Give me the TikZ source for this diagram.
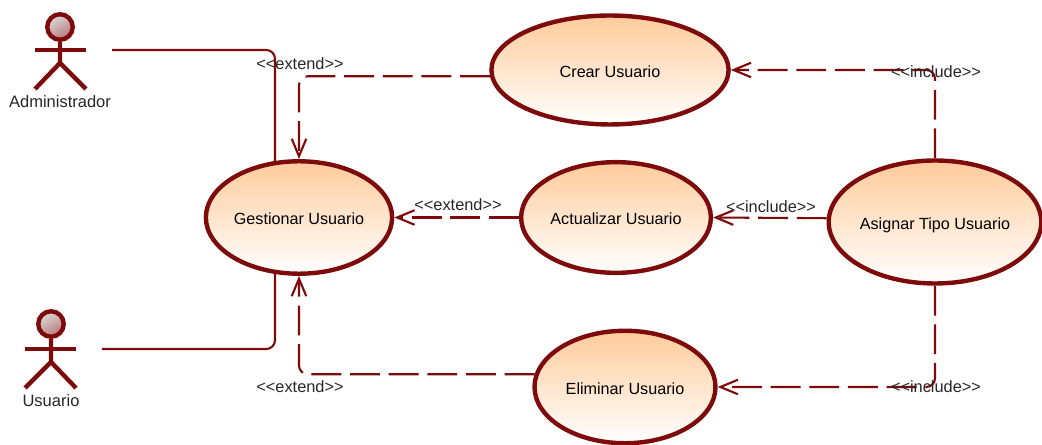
\documentclass[tikz,border=0pt]{standalone}
\usepackage{fontspec}
\setmainfont{Liberation Sans}
\usepackage{xcolor}
\usetikzlibrary{arrows.meta}
\usetikzlibrary{shapes.geometric}
\definecolor{umlred}{HTML}{7E0B0B}
\definecolor{umlfill}{HTML}{FFCB9B}
\tikzset{>={Straight Barb[width=2.9mm,length=3.5mm]}}
\tikzset{
  usecase/.style={ellipse,draw=umlred,line width=2.5pt,top color=umlfill,bottom color=white,inner sep=0pt,text height=8pt,text depth=0pt,font=\fontsize{9.2}{10}\selectfont},
  actorhead/.style={circle,draw=umlred,line width=2.5pt,minimum size=14.5pt,inner sep=0pt,top color=black!15!white,bottom color=umlred!55!white,shading angle=30},
  actorbody/.style={draw=umlred,line width=2.5pt},
  assoc/.style={draw=umlred,line width=1.2pt,rounded corners=5pt},
  depend/.style={draw=umlred,line width=1.2pt,rounded corners=5pt,->,dash pattern=on 17pt off 5pt},
  tag/.style={font=\fontsize{9.3}{10}\selectfont,text=black!85},
  actorname/.style={font=\fontsize{9.4}{10}\selectfont,text=black!85}
}

\begin{document}
\begin{tikzpicture}[x=0.02cm,y=-0.02cm]

  \useasboundingbox (0,0) rectangle (1042,445);

  % casos de uso
  \node[usecase,minimum width=106pt,minimum height=64pt] (gestionar) at (299,217.5) {Gestionar Usuario};
  \node[usecase,minimum width=135pt,minimum height=62pt] (crear) at (610,70) {Crear Usuario};
  \node[usecase,minimum width=108pt,minimum height=63pt] (actualizar) at (616,217.5) {Actualizar Usuario};
  \node[usecase,minimum width=121pt,minimum height=70pt] (asignar) at (935,222) {Asignar Tipo Usuario};
  \node[usecase,minimum width=103pt,minimum height=64pt] (eliminar) at (625,387) {Eliminar Usuario};

  % actores
  \node[actorhead] (adminHead) at (60,27) {};
  \node[actorname] (adminName) at (60,102) {Administrador};
  \draw[actorbody] (adminHead.south) -- (60,63) -- (35,89);
  \draw[actorbody] (60,63) -- (86,89);
  \draw[actorbody] (35,50) -- (86,50);

  \node[actorhead] (userHead) at (51,324) {};
  \node[actorname] (userName) at (51,401) {Usuario};
  \draw[actorbody] (userHead.south) -- (51,362) -- (25,388);
  \draw[actorbody] (51,362) -- (76,388);
  \draw[actorbody] (25,349) -- (76,349);

  \coordinate (adminEnd) at (112,50);
  \coordinate (userEnd) at (102,349);

  \draw[assoc] (adminEnd) -| (gestionar.113);
  \draw[assoc] (userEnd) -| (gestionar.247);

  \draw[depend] (crear.183) -| (gestionar.north);
  \draw[depend] (actualizar.west) -- (gestionar.east);
  \draw[depend] (eliminar.172) -| (gestionar.south);
  \draw[depend] (asignar.north) |- (crear.east);
  \draw[depend] (asignar.178) -- (actualizar.east);
  \draw[depend] (asignar.south) |- (eliminar.east);

  \node[tag] (extendA) at (300,64) {<{}<extend>{}>};
  \node[tag] (extendB) at (458,205) {<{}<extend>{}>};
  \node[tag] (extendC) at (300,387) {<{}<extend>{}>};
  \node[tag] (includeA) at (936,72) {<{}<include>{}>};
  \node[tag] (includeB) at (771,207) {<{}<include>{}>};
  \node[tag] (includeC) at (936,387) {<{}<include>{}>};

\end{tikzpicture}
\end{document}
